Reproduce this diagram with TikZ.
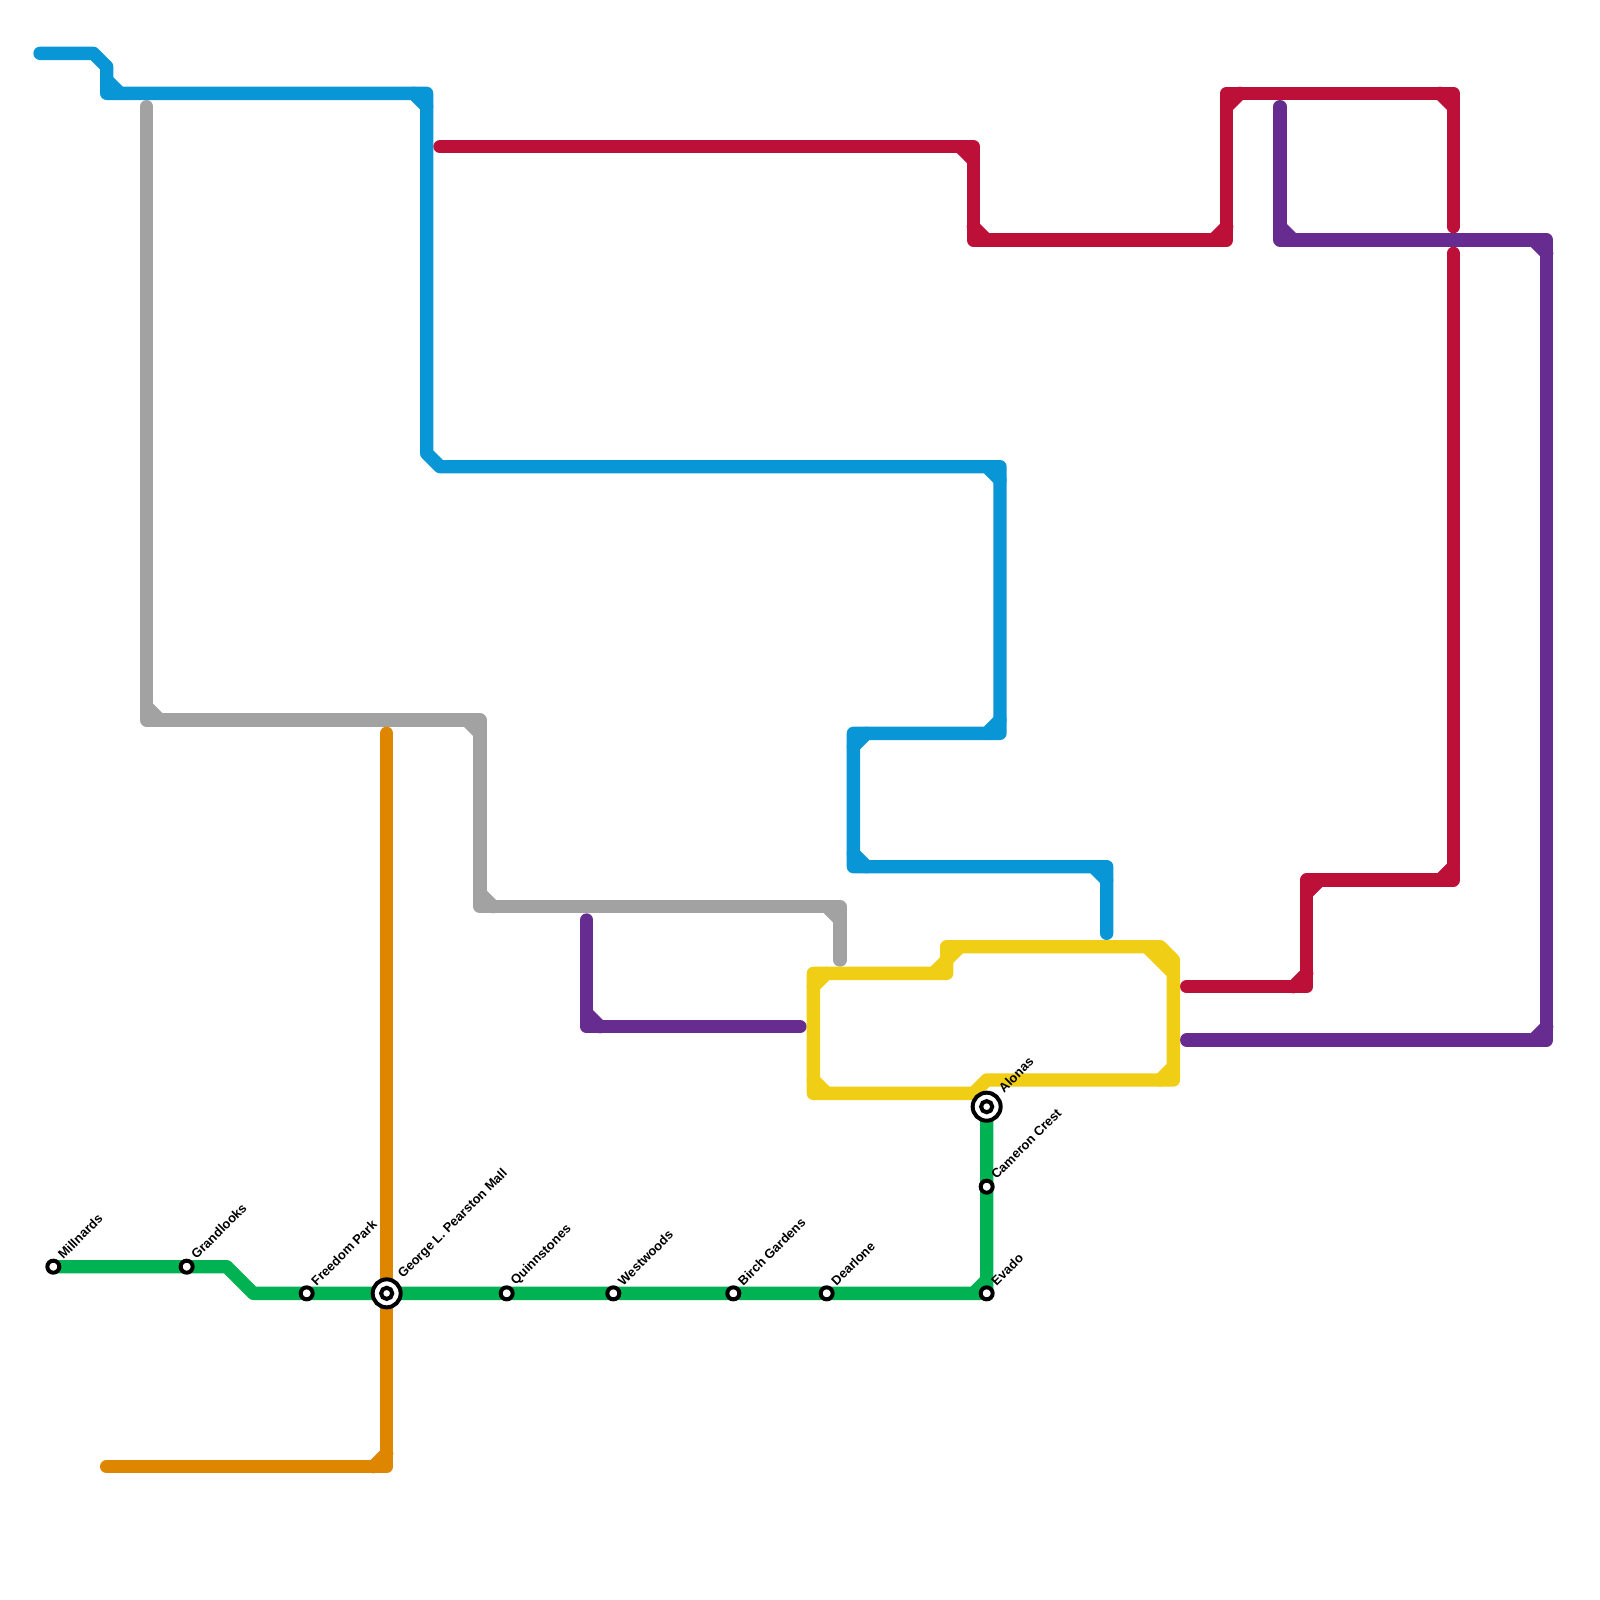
\documentclass[tikz,border=0pt]{standalone}
\usepackage{fontspec}
\usetikzlibrary{calc}
\setmainfont{Liberation Sans}
\definecolor{mblue}{HTML}{0896D7}
\definecolor{mgray}{HTML}{A2A2A2}
\definecolor{morange}{HTML}{DF8600}
\definecolor{mgreen}{HTML}{00B251}
\definecolor{myellow}{HTML}{F0CE15}
\definecolor{mred}{HTML}{BD1038}
\definecolor{mpurple}{HTML}{662C90}
\tikzset{
  metro/.style={line width=0.5cm,line cap=round,line join=round},
  stn/.style={circle,draw=black,fill=white,line width=0.15cm,minimum size=0.45cm,inner sep=0pt},
  hub/.style={circle,draw=black,fill=white,line width=0.15cm,minimum size=1.05cm,inner sep=0pt},
  hubin/.style={circle,draw=black,fill=white,line width=0.15cm,minimum size=0.42cm,inner sep=0pt},
  lab/.style={rotate=45,anchor=west,inner sep=0pt,font=\fontsize{13.8}{13.8}\selectfont\bfseries,text=black}
}
\begin{document}
\begin{tikzpicture}[x=0.5cm,y=-0.5cm]
\useasboundingbox (0,0) rectangle (120,120);
% station positions
\coordinate (millnards) at (4,95);
\coordinate (grandlooks) at (14,95);
\coordinate (bendA) at (17,95);
\coordinate (bendB) at (19,97);
\coordinate (freedom) at (23,97);
\coordinate (george) at (29,97);
\coordinate (quinn) at (38,97);
\coordinate (west) at (46,97);
\coordinate (birch) at (55,97);
\coordinate (dear) at (62,97);
\coordinate (evado) at (74,97);
\coordinate (cameron) at (74,89);
\coordinate (alonas) at (74,83);
% blue
\draw[metro,mblue] (3,4)--(7,4)--(8,5)--(8,7)--(32,7)--(32,34)--(33,35)--(75,35)--(75,55)--(64,55)--(64,65)--(83,65)--(83,70);
\foreach \a/\b/\c/\d in {8/6/9/7,31/7/32/8,74/35/75/36,74/55/75/54,64/56/65/55,64/64/65/65,82/65/83/66}
  \draw[metro,mblue] (\a,\b)--(\c,\d);
% gray
\draw[metro,mgray] (11,8)--(11,54)--(36,54)--(36,68)--(63,68)--(63,72);
\foreach \a/\b/\c/\d in {11/53/12/54,35/54/36/55,36/67/37/68,62/68/63/69}
  \draw[metro,mgray] (\a,\b)--(\c,\d);
% orange
\draw[metro,morange] (29,55)--(29,110)--(8,110);
\draw[metro,morange] (28,110)--(29,109);
% red
\draw[metro,mred] (33,11)--(73,11)--(73,18)--(92,18)--(92,7)--(109,7)--(109,17);
\draw[metro,mred] (109,19)--(109,66)--(98,66)--(98,74)--(89,74);
\foreach \a/\b/\c/\d in {72/11/73/12,73/17/74/18,91/18/92/17,92/8/93/7,108/7/109/8,109/65/108/66,98/67/99/66,97/74/98/73}
  \draw[metro,mred] (\a,\b)--(\c,\d);
% purple
\draw[metro,mpurple] (96,8)--(96,18)--(116,18)--(116,78)--(89,78);
\draw[metro,mpurple] (44,69)--(44,77)--(60,77);
\foreach \a/\b/\c/\d in {96/17/97/18,115/18/116/19,116/77/115/78,44/76/45/77}
  \draw[metro,mpurple] (\a,\b)--(\c,\d);
% yellow
\draw[metro,myellow] (71,71)--(87,71)--(88,72)--(88,81)--(74,81)--(73,82)--(61,82)--(61,73)--(71,73)--cycle;
\foreach \a/\b/\c/\d in {86/71/88/73,70/73/71/72,71/72/72/71,61/74/62/73,61/81/62/82,87/81/88/80}
  \draw[metro,myellow] (\a,\b)--(\c,\d);
% green
\draw[metro,mgreen] (millnards)--(grandlooks)--(bendA)--(bendB)--(freedom)--(george)--(quinn)--(west)--(birch)--(dear)--(evado)--(cameron)--(alonas);
\draw[metro,mgreen] (73,97)--(74,96);
% stations
\foreach \n/\t in {millnards/Millnards,grandlooks/Grandlooks,freedom/Freedom Park,quinn/Quinnstones,west/Westwoods,birch/Birch Gardens,dear/Dearlone,evado/Evado,cameron/Cameron Crest}{
  \node[stn] (st\n) at (\n) {};
  \node[lab] (lb\n) at ($(\n)+(0.5,-0.75)$) {\t};
}
\node[hub] (sthubg) at (george) {};
\node[hubin] (sthubgi) at (george) {};
\node[lab] (lbgeorge) at ($(george)+(1.05,-1.25)$) {George L. Pearston Mall};
\node[hub] (sthuba) at (alonas) {};
\node[hubin] (sthubai) at (alonas) {};
\node[lab] (lbalonas) at ($(alonas)+(1.05,-1.25)$) {Alonas};
\end{tikzpicture}
\end{document}
